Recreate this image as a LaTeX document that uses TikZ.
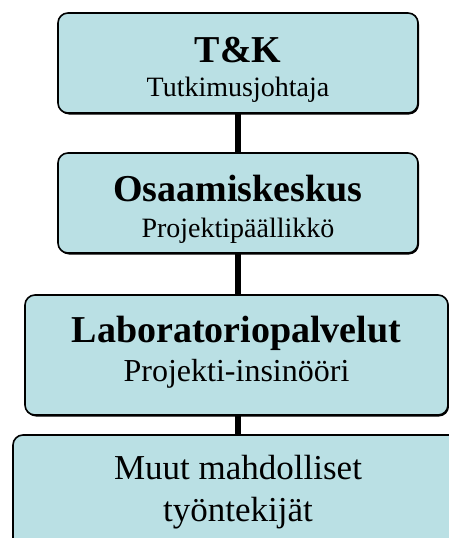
\documentclass[tikz,border=0pt]{standalone}
\usepackage{fontspec}
\setmainfont{Liberation Serif}
\usetikzlibrary{shadows}

\definecolor{boxblue}{RGB}{186,224,228}
\tikzset{
  orgbox/.style={draw=black, line width=1.6pt, fill=boxblue, rounded corners=10pt, inner sep=0pt,
    drop shadow={shadow xshift=1pt, shadow yshift=-1.5pt, fill=black, opacity=1}},
  titletext/.style={font=\fontsize{38}{40}\selectfont\bfseries, anchor=base, inner sep=0pt},
  subtext/.style={font=\fontsize{28}{30}\selectfont, anchor=base, inner sep=0pt},
  link/.style={line width=6pt}
}

\begin{document}
\begin{tikzpicture}[x=1pt,y=1pt]
        \clip (0,0) rectangle (449,-538);
        \node[orgbox, minimum width=360pt, minimum height=100pt] (tk) at (238,-63) {};
        \node[orgbox, minimum width=360pt, minimum height=100pt] (osk) at (238,-203) {};
        \node[orgbox, minimum width=423pt, minimum height=120pt] (lab) at (236.5,-355) {};
        \node[orgbox, minimum width=450pt, minimum height=120pt] (muut) at (238,-495) {};
        % texts
        \node[titletext] (tktitle) at ([yshift=-50pt]tk.north) {T\&K};
        \node[subtext] (tksub) at ([yshift=-84pt]tk.north) {Tutkimusjohtaja};
        \node[titletext] (osktitle) at ([yshift=-49pt]osk.north) {Osaamiskeskus};
        \node[subtext] (osksub) at ([yshift=-85pt]osk.north) {Projektipäällikkö};
        \node[titletext] (labtitle) at ([yshift=-48pt]lab.north) {Laboratoriopalvelut};
        \node[subtext, font=\fontsize{32}{34}\selectfont] (labsub) at ([yshift=-87pt]lab.north) {Projekti-insinööri};
        \node[subtext, font=\fontsize{35}{36}\selectfont] (muut1) at ([yshift=-45pt]muut.north) {Muut mahdolliset};
        \node[subtext, font=\fontsize{35}{36}\selectfont] (muut2) at ([yshift=-87pt]muut.north) {työntekijät};
        % links
        \draw[link] (tk.south) -- (osk.north);
        \draw[link] (osk.south) -- (osk.south |- lab.north);
        \draw[link] (lab.south -| osk.south) -- (muut.north);
\end{tikzpicture}
\end{document}
